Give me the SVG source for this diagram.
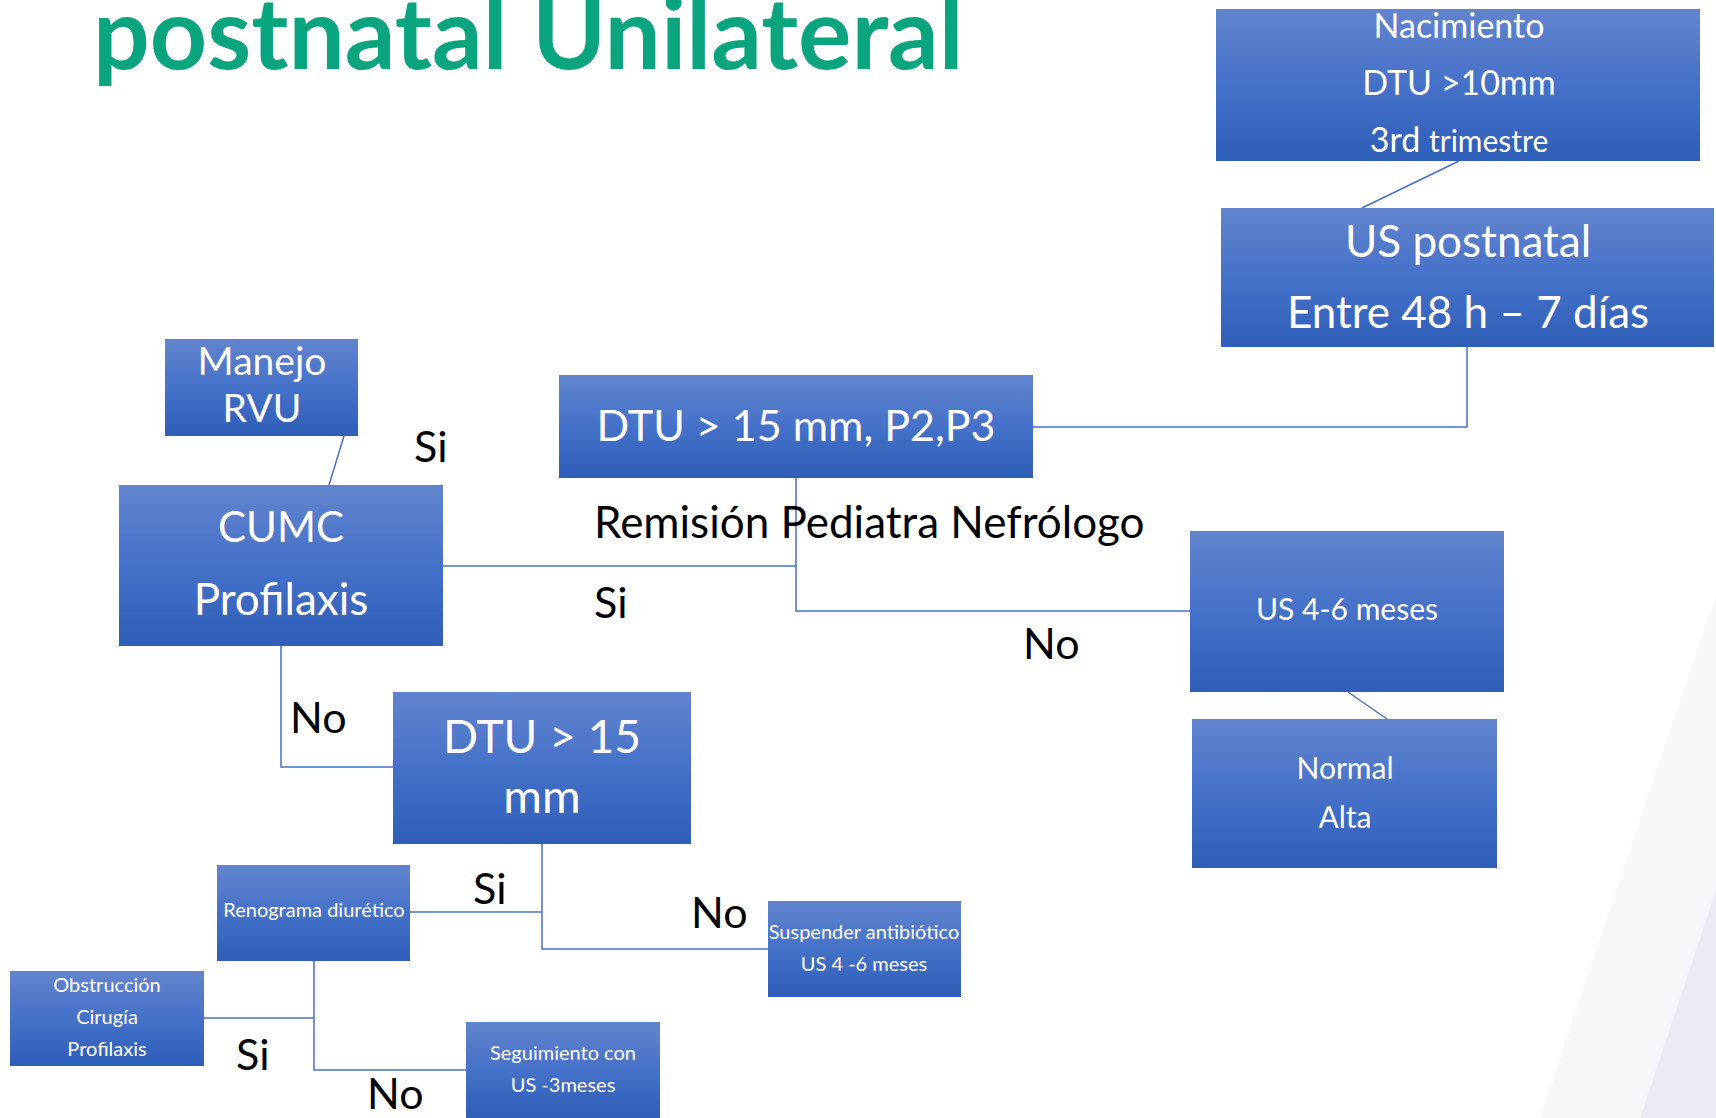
<svg xmlns="http://www.w3.org/2000/svg" width="1716" height="1118" viewBox="0 0 1716 1118">
<defs>
<linearGradient id="g" x1="0" y1="0" x2="0" y2="1">
<stop offset="0" stop-color="#6384CD"/>
<stop offset="0.5" stop-color="#4571C8"/>
<stop offset="1" stop-color="#2F5EB7"/>
</linearGradient>
<style>
.box{fill:url(#g);}
.t{font-family:Lato,"Liberation Sans",sans-serif;fill:#FFFFFF;text-anchor:middle;}
.lbl{font-family:Lato,"Liberation Sans",sans-serif;fill:#000000;}
.c{fill:none;stroke:#4472C4;stroke-width:1.5;}
</style>
</defs>
<rect x="0" y="0" width="1716" height="1118" fill="#FFFFFF"/>
<polygon points="1540,1118 1716,595 1716,1118" fill="#F7F7FA"/>
<polygon points="1640,1118 1716,890 1716,1118" fill="#EBEBF3"/>
<text x="93" y="69" font-family="Lato,'Liberation Sans',sans-serif" font-weight="bold" font-size="100" fill="#0AA57F">postnatal Unilateral</text>

<g id="connectors">
<line class="c" x1="1459" y1="161" x2="1362" y2="208"/>
<polyline class="c" points="1467,347 1467,427 1033,427"/>
<polyline class="c" points="796,478 796,611 1190,611"/>
<line class="c" x1="796" y1="566" x2="443" y2="566"/>
<line class="c" x1="1348" y1="692" x2="1387" y2="719"/>
<line class="c" x1="344" y1="436" x2="329" y2="485"/>
<polyline class="c" points="281,646 281,767 393,767"/>
<polyline class="c" points="542,844 542,949 768,949"/>
<line class="c" x1="542" y1="912" x2="410" y2="912"/>
<polyline class="c" points="314,961 314,1070 466,1070"/>
<line class="c" x1="314" y1="1018" x2="204" y2="1018"/>
</g>

<g id="n-nacimiento">
<rect class="box" x="1216" y="9" width="484" height="152"/>
<text class="t" x="1459" y="38" font-size="34">Nacimiento</text>
<text class="t" x="1459" y="95" font-size="34">DTU &gt;10mm</text>
<text class="t" x="1459" y="152"><tspan font-size="34">3rd </tspan><tspan font-size="30">trimestre</tspan></text>
</g>
<g id="n-uspostnatal">
<rect class="box" x="1221" y="208" width="493" height="139"/>
<text class="t" x="1468" y="257" font-size="44">US postnatal</text>
<text class="t" x="1468" y="328" font-size="44">Entre 48 h – 7 días</text>
</g>
<g id="n-dtu-p2p3">
<rect class="box" x="559" y="375" width="474" height="103"/>
<text class="t" x="796" y="441" font-size="43">DTU &gt; 15 mm, P2,P3</text>
</g>
<g id="n-us46">
<rect class="box" x="1190" y="531" width="314" height="161"/>
<text class="t" x="1347" y="620" font-size="30">US 4-6 meses</text>
</g>
<g id="n-normal">
<rect class="box" x="1192" y="719" width="305" height="149"/>
<text class="t" x="1345" y="779" font-size="30">Normal</text>
<text class="t" x="1345" y="828" font-size="30">Alta</text>
</g>
<g id="n-manejo">
<rect class="box" x="165" y="339" width="193" height="97"/>
<text class="t" x="262" y="375" font-size="39">Manejo</text>
<text class="t" x="262" y="422" font-size="39">RVU</text>
</g>
<g id="n-cumc">
<rect class="box" x="119" y="485" width="324" height="161"/>
<text class="t" x="281" y="542" font-size="42">CUMC</text>
<text class="t" x="281" y="615" font-size="44">Profilaxis</text>
</g>
<g id="n-dtu15">
<rect class="box" x="393" y="692" width="298" height="152"/>
<text class="t" x="542" y="753" font-size="46">DTU &gt; 15</text>
<text class="t" x="542" y="813" font-size="47">mm</text>
</g>
<g id="n-renograma">
<rect class="box" x="217" y="865" width="193" height="96"/>
<text class="t" x="314" y="917" font-size="20">Renograma diurético</text>
</g>
<g id="n-suspender">
<rect class="box" x="768" y="901" width="193" height="96"/>
<text class="t" x="864" y="939" font-size="20">Suspender antibiótico</text>
<text class="t" x="864" y="971" font-size="20">US 4 -6 meses</text>
</g>
<g id="n-obstruccion">
<rect class="box" x="10" y="971" width="194" height="95"/>
<text class="t" x="107" y="992" font-size="20">Obstrucción</text>
<text class="t" x="107" y="1024" font-size="20">Cirugía</text>
<text class="t" x="107" y="1056" font-size="20">Profilaxis</text>
</g>
<g id="n-seguimiento">
<rect class="box" x="466" y="1022" width="194" height="96"/>
<text class="t" x="563" y="1060" font-size="20">Seguimiento con</text>
<text class="t" x="563" y="1092" font-size="20">US -3meses</text>
</g>

<g id="labels">
<text class="lbl" x="594" y="538" font-size="44">Remisión Pediatra Nefrólogo</text>
<text class="lbl" x="414" y="462" font-size="43">Si</text>
<text class="lbl" x="594" y="618" font-size="43">Si</text>
<text class="lbl" x="1023" y="659" font-size="43">No</text>
<text class="lbl" x="290" y="733" font-size="43">No</text>
<text class="lbl" x="473" y="904" font-size="43">Si</text>
<text class="lbl" x="691" y="928" font-size="43">No</text>
<text class="lbl" x="236" y="1070" font-size="43">Si</text>
<text class="lbl" x="367" y="1109" font-size="43">No</text>
</g>
</svg>
